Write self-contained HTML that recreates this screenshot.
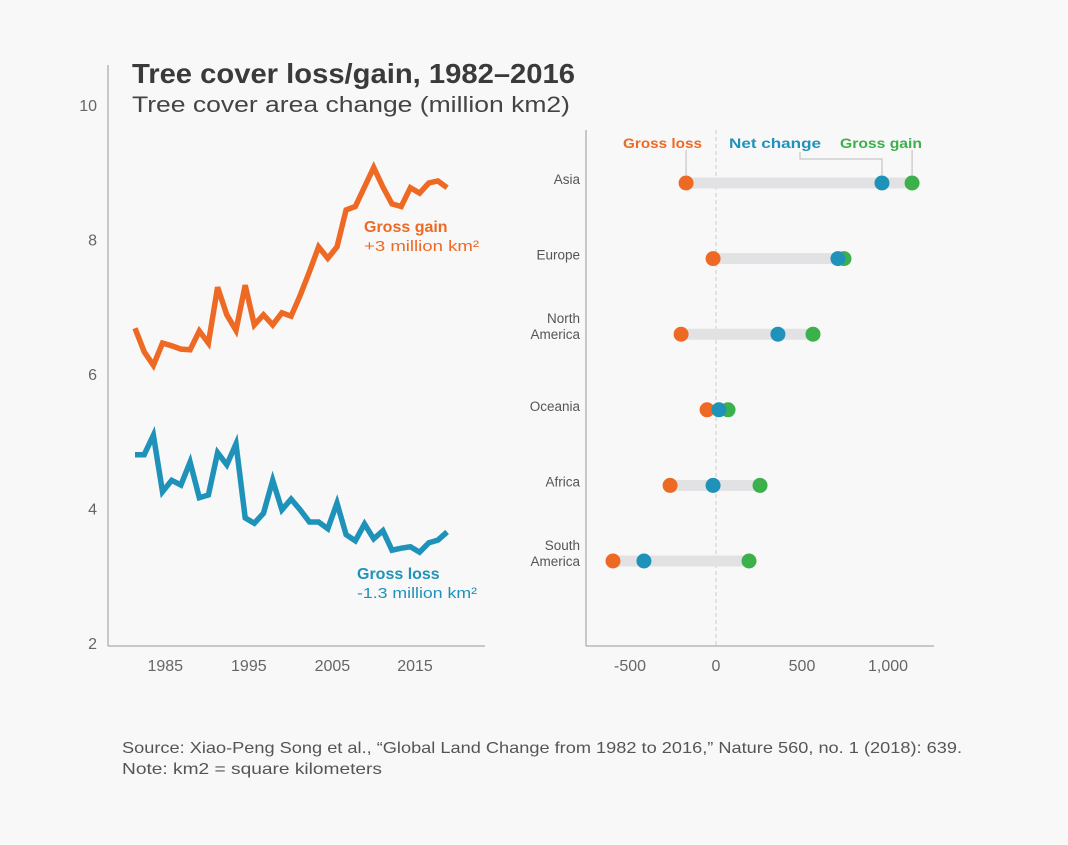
<!DOCTYPE html>
<html><head><meta charset="utf-8"><style>
body{margin:0;background:#f8f8f8;font-family:"Liberation Sans",sans-serif;}
svg{display:block}
</style></head><body>
<svg id="c" width="1068" height="845" viewBox="0 0 1068 845">
<rect width="1068" height="845" fill="#f8f8f8"/>
<text x="132" y="83" font-size="28" font-weight="bold" fill="#3a3a3a" textLength="443" lengthAdjust="spacingAndGlyphs">Tree cover loss/gain, 1982–2016</text>
<text x="132" y="112" font-size="22" fill="#444" textLength="438" lengthAdjust="spacingAndGlyphs">Tree cover area change (million km2)</text>
<g id="left"></g>
<g id="right"></g>
<text x="122" y="753" font-size="16" fill="#555" textLength="840" lengthAdjust="spacingAndGlyphs">Source: Xiao-Peng Song et al., “Global Land Change from 1982 to 2016,” Nature 560, no. 1 (2018): 639.</text>
<text x="122" y="774" font-size="16" fill="#555" textLength="260" lengthAdjust="spacingAndGlyphs">Note: km2 = square kilometers</text>
</svg>
<script>
const years = [1982,1983,1984,1985,1986,1987,1988,1989,1990,1991,1992,1993,1994,1995,1996,1997,1998,1999,2000,2001,2002,2003,2004,2005,2006,2007,2008,2009,2010,2011,2012,2013,2014,2015,2016];
const grossGain = [6.68,6.33,6.13,6.46,6.42,6.37,6.36,6.64,6.46,7.29,6.88,6.65,7.32,6.73,6.88,6.73,6.91,6.86,7.17,7.52,7.89,7.72,7.89,8.44,8.49,8.78,9.07,8.78,8.53,8.49,8.77,8.69,8.84,8.87,8.77];
const grossLoss = [4.80,4.80,5.09,4.25,4.42,4.35,4.69,4.16,4.20,4.83,4.65,4.96,3.86,3.78,3.93,4.42,3.98,4.14,3.98,3.80,3.80,3.70,4.08,3.61,3.52,3.77,3.55,3.67,3.38,3.41,3.43,3.35,3.49,3.53,3.65];
const yTicks = [2,4,6,8,10];
const xTickLabels = ["1985","1995","2005","2015"];
const xTickYears = [1985.3,1994.4,2003.5,2012.5];

const regions = ["Asia","Europe","North America","Oceania","Africa","South America"];
const lossVals = [-174,-17,-203,-52,-267,-599];
const netVals = [965,709,360,17,-17,-419];
const gainVals = [1140,744,564,70,256,192];
const rTicks = [-500,0,500,1000];
const rTickLabels = ["-500","0","500","1,000"];

const NS="http://www.w3.org/2000/svg";
function mk(p,tag,a,txt){const e=document.createElementNS(NS,tag);for(const k in a)e.setAttribute(k,a[k]);if(txt!=null)e.textContent=txt;p.appendChild(e);return e;}
const ORANGE="#ee6a24",BLUE="#1f92b9",GREEN="#3cb04a";

// left
const L=document.getElementById('left');
const lx=y=>135+(y-1982)*9.18;
const ly=v=>643-(v-2)*67.25;
let e;
e=mk(L,'line',{x1:108,y1:65,x2:108,y2:646,stroke:'#999','stroke-width':1});


e=mk(L,'line',{x1:108,y1:646,x2:485,y2:646,stroke:'#999','stroke-width':1});


yTicks.forEach(t=>{
  e=mk(L,'text',{x:97,y:ly(t)+6,'font-size':16,fill:'#666','text-anchor':'end'},String(t));
  
  
});
xTickYears.forEach((t,i)=>{
  e=mk(L,'text',{x:lx(t),y:671,'font-size':16,fill:'#666','text-anchor':'middle'},xTickLabels[i]);
  
  
});
function line(vals,col,name){
  const d=vals.map((v,i)=>(i?'L':'M')+lx(years[i]).toFixed(1)+','+ly(v).toFixed(1)).join('');
  const p=mk(L,'path',{d:d,fill:'none',stroke:col,'stroke-width':5.5,'stroke-linejoin':'miter'});
  
  
}
line(grossGain,ORANGE,'gross-gain-line');
line(grossLoss,BLUE,'gross-loss-line');
e=mk(L,'text',{x:364,y:232,'font-size':16,'font-weight':'bold',fill:ORANGE},'Gross gain');


e=mk(L,'text',{x:364,y:251,'font-size':15,fill:ORANGE,textLength:115,lengthAdjust:'spacingAndGlyphs'},'+3 million km²');


e=mk(L,'text',{x:357,y:579,'font-size':16,'font-weight':'bold',fill:BLUE},'Gross loss');


e=mk(L,'text',{x:357,y:598,'font-size':15,fill:BLUE,textLength:120,lengthAdjust:'spacingAndGlyphs'},'-1.3 million km²');



// right
const R=document.getElementById('right');
const rx=v=>716+v*0.172;
const ry=i=>183+i*75.6;
e=mk(R,'line',{x1:586,y1:130,x2:586,y2:646,stroke:'#999','stroke-width':1});


e=mk(R,'line',{x1:586,y1:646,x2:934,y2:646,stroke:'#999','stroke-width':1});


e=mk(R,'line',{x1:rx(0),y1:130,x2:rx(0),y2:646,stroke:'#ccc','stroke-width':1,'stroke-dasharray':'4,3'});


rTicks.forEach((t,i)=>{
  e=mk(R,'text',{x:rx(t),y:671,'font-size':16,fill:'#666','text-anchor':'middle'},rTickLabels[i]);
  
  
});
regions.forEach((r,i)=>{
  const y=ry(i);
  const parts=r.split(' ');
  parts.forEach((p,j)=>{
    const t=mk(R,'text',{x:580,y:y+5+(parts.length>1?(j-0.5)*16-8:-8)+ (parts.length>1?0:4),'font-size':13.5,fill:'#555','text-anchor':'end'},p);
    
    
  });
  const b=mk(R,'line',{x1:rx(lossVals[i]),y1:y,x2:rx(gainVals[i]),y2:y,stroke:'#e2e2e4','stroke-width':11});
  
  
  const c1=mk(R,'circle',{cx:rx(lossVals[i]),cy:y,r:7.5,fill:ORANGE});
  
  
  const c3=mk(R,'circle',{cx:rx(gainVals[i]),cy:y,r:7.5,fill:GREEN});
  
  
  const c2=mk(R,'circle',{cx:rx(netVals[i]),cy:y,r:7.5,fill:BLUE});
  
  
});
// legend + leaders
const ly0=ry(0);
e=mk(R,'path',{d:`M${rx(lossVals[0])},150V${ly0-8}`,stroke:'#bbb',fill:'none','stroke-width':1});


e=mk(R,'path',{d:`M800,152V159H${rx(netVals[0])}V${ly0-8}`,stroke:'#bbb',fill:'none','stroke-width':1});


e=mk(R,'path',{d:`M${rx(gainVals[0])},150V${ly0-8}`,stroke:'#bbb',fill:'none','stroke-width':1});


e=mk(R,'text',{x:623,y:148,'font-size':14,'font-weight':'bold',fill:ORANGE,textLength:79,lengthAdjust:'spacingAndGlyphs'},'Gross loss');


e=mk(R,'text',{x:729,y:148,'font-size':14,'font-weight':'bold',fill:BLUE,textLength:92,lengthAdjust:'spacingAndGlyphs'},'Net change');


e=mk(R,'text',{x:840,y:148,'font-size':14,'font-weight':'bold',fill:GREEN,textLength:82,lengthAdjust:'spacingAndGlyphs'},'Gross gain');


</script>
</body></html>
